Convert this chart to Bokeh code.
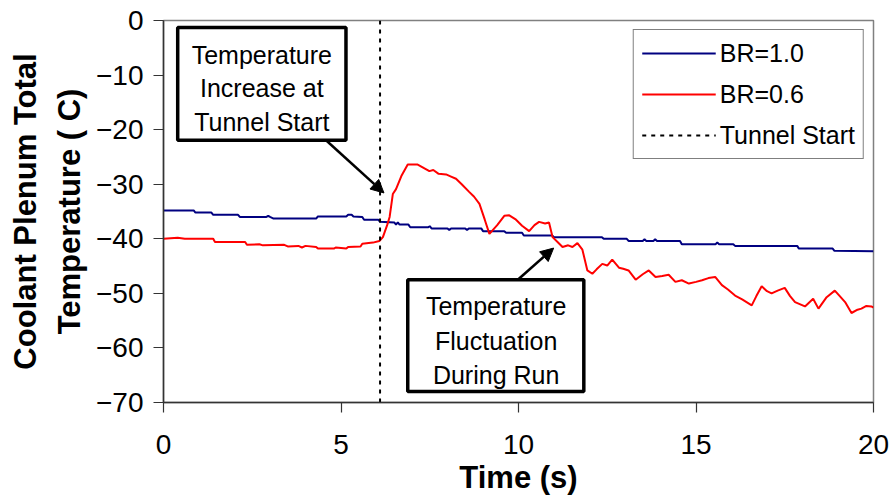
from bokeh.plotting import figure
from bokeh.models import (FixedTicker, BoxAnnotation, Label, Arrow, NormalHead,
                          Legend, LegendItem)
from bokeh.embed import file_html
from bokeh.resources import INLINE

# ---- data -------------------------------------------------------------
br10_time = [0.0, 0.85, 0.9, 1.35, 1.4, 2.1, 2.15, 2.9, 2.95, 3.0, 3.1, 4.3, 4.35,
             5.15, 5.2, 5.3, 5.35, 5.6, 5.65, 6.05, 6.1, 6.5, 6.55, 6.6, 6.65, 6.9,
             6.95, 7.45, 7.5, 7.55, 8.0, 8.05, 8.1, 8.5, 8.55, 8.6, 8.95, 9.0, 9.6,
             9.65, 10.1, 10.15, 10.95, 11.0, 12.35, 12.4, 13.05, 13.1, 13.5, 13.55,
             13.6, 13.8, 13.85, 13.9, 14.55, 14.6, 15.55, 15.6, 15.65, 16.05, 16.1,
             17.85, 17.9, 18.85, 18.9, 20.0]
br10_temp = [-34.8, -34.8, -35.2, -35.2, -35.6, -35.6, -36.0, -36.0, -35.8, -36.0,
             -36.3, -36.3, -35.9, -35.9, -35.6, -35.6, -35.9, -36.0, -36.5, -36.5,
             -36.9, -37.0, -37.4, -37.0, -37.4, -37.4, -37.9, -37.9, -37.7, -38.1,
             -38.1, -38.4, -38.1, -38.1, -38.4, -38.1, -38.1, -38.6, -38.6, -38.9,
             -38.9, -39.4, -39.4, -39.7, -39.7, -40.0, -40.0, -40.4, -40.4, -40.1,
             -40.4, -40.4, -40.1, -40.4, -40.4, -41.0, -41.0, -40.7, -41.0, -41.0,
             -41.3, -41.3, -41.8, -41.8, -42.2, -42.3]

br06_time = [0.0, 0.4, 0.6, 1.4, 1.45, 2.3, 2.35, 2.7, 2.8, 3.4, 3.5, 3.8, 3.9, 4.0,
             4.3, 4.35, 4.8, 4.85, 5.15, 5.2, 5.55, 5.6, 5.9, 6.08, 6.18, 6.3, 6.37,
             6.46, 6.55, 6.7, 6.88, 7.16, 7.3, 7.49, 7.6, 7.75, 7.96, 8.1, 8.24, 8.4,
             8.61, 8.75, 8.9, 9.05, 9.18, 9.4, 9.6, 9.74, 9.93, 10.1, 10.3, 10.45,
             10.58, 10.75, 10.86, 10.96, 11.1, 11.24, 11.4, 11.52, 11.66, 11.8, 11.94,
             12.08, 12.2, 12.36, 12.5, 12.64, 12.83, 12.95, 13.1, 13.3, 13.5, 13.67,
             13.86, 14.05, 14.23, 14.42, 14.6, 14.8, 15.0, 15.17, 15.35, 15.54, 15.73,
             15.9, 16.1, 16.3, 16.57, 16.7, 16.85, 17.0, 17.13, 17.3, 17.5, 17.65,
             17.79, 18.07, 18.3, 18.45, 18.68, 18.91, 19.05, 19.2, 19.38, 19.55, 19.66,
             19.8, 19.94, 20.0]
br06_temp = [-40.0, -39.8, -40.0, -40.0, -40.6, -40.6, -41.1, -41.0, -41.2, -41.1,
             -41.4, -41.3, -41.6, -41.3, -41.5, -41.8, -41.8, -41.6, -41.8, -41.5,
             -41.4, -40.9, -40.7, -40.4, -39.7, -37.5, -36.0, -31.8, -30.9, -28.5,
             -26.4, -26.4, -26.9, -27.6, -27.4, -28.1, -28.2, -28.6, -29.0, -30.0,
             -31.4, -32.3, -33.6, -36.5, -39.1, -37.5, -35.8, -35.7, -36.5, -37.6,
             -38.6, -37.5, -36.9, -37.2, -37.0, -39.7, -40.6, -41.5, -41.2, -41.5,
             -40.8, -42.0, -45.8, -46.4, -45.6, -44.6, -44.9, -43.8, -45.3, -45.5,
             -45.8, -47.5, -46.5, -45.8, -47.0, -46.8, -46.6, -47.9, -47.6, -48.2,
             -47.9, -47.6, -47.2, -47.0, -48.5, -49.3, -50.4, -51.1, -52.2, -50.5,
             -48.7, -49.6, -50.0, -49.5, -49.0, -50.5, -51.6, -52.4, -51.0, -52.8,
             -50.7, -49.5, -50.5, -51.6, -53.6, -53.0, -52.8, -52.3, -52.4, -52.6]

tunnel_start = 6.1
x_ticks = [0, 5, 10, 15, 20]
y_ticks = [-70, -60, -50, -40, -30, -20, -10, 0]

FONT = "Liberation Sans"

p = figure(width=894, height=500, x_range=(0, 20), y_range=(-70, 0),
           output_backend="svg", toolbar_location=None,
           min_border_left=163, min_border_right=21, min_border_top=20,
           min_border_bottom=98)
p.background_fill_color = "white"
p.border_fill_color = "white"
p.grid.visible = False
p.outline_line_color = "#808080"
p.outline_line_width = 1.5

for ax in (p.xaxis, p.yaxis):
    ax.axis_line_color = "#333333"
    ax.axis_line_width = 1.5
    ax.major_tick_line_color = "#333333"
    ax.major_tick_line_width = 1.2
    ax.major_tick_out = 10
    ax.major_tick_in = 0
    ax.minor_tick_line_color = None
    ax.major_label_text_font = FONT
    ax.major_label_text_font_size = "28px"
    ax.major_label_text_color = "black"
    ax.axis_label_text_font = FONT
    ax.axis_label_text_font_size = "31px"
    ax.axis_label_text_font_style = "bold"
    ax.axis_label_text_color = "black"

p.xaxis.ticker = FixedTicker(ticks=x_ticks)
p.yaxis.ticker = FixedTicker(ticks=y_ticks)
p.xaxis.major_label_standoff = 22
p.yaxis.major_label_standoff = 10
p.xaxis.axis_label = "Time (s)"
p.xaxis.axis_label_standoff = 3
p.yaxis.axis_label = "Coolant Plenum Total\nTemperature ( C)"
p.yaxis.axis_label_standoff = 6
p.yaxis.axis_label_text_line_height = 1.25

# ---- series -----------------------------------------------------------
r_br10 = p.line(br10_time, br10_temp, line_color="#000080", line_width=2)
r_br06 = p.line(br06_time, br06_temp, line_color="#FF0000", line_width=2)
r_start = p.line([tunnel_start, tunnel_start], [y_ticks[0], y_ticks[-1]],
                 line_color="black", line_width=2, line_dash="4 5")

legend = Legend(items=[LegendItem(label="BR=1.0", renderers=[r_br10]),
                       LegendItem(label="BR=0.6", renderers=[r_br06]),
                       LegendItem(label="Tunnel Start", renderers=[r_start])],
                location="top_right")
legend.margin = 9
legend.padding = 8
legend.spacing = 11
legend.glyph_width = 74
legend.glyph_height = 30
legend.label_height = 30
legend.label_standoff = 4
legend.label_text_font = FONT
legend.label_text_font_size = "25px"
legend.label_text_color = "black"
legend.border_line_color = "black"
legend.border_line_width = 1
legend.background_fill_color = "white"
legend.background_fill_alpha = 1
p.add_layout(legend)

# ---- callouts ---------------------------------------------------------
head = dict(size=13, fill_color="black", line_color="black")
p.add_layout(Arrow(end=NormalHead(**head), x_start=4.57, y_start=-21.9,
                   x_end=6.21, y_end=-31.6, line_width=2.5, line_color="black"))
p.add_layout(Arrow(end=NormalHead(**head), x_start=9.98, y_start=-47.5,
                   x_end=10.99, y_end=-41.7, line_width=2.5, line_color="black"))

boxes = [
    (0.40, 5.14, -1.28, -21.93, 2.77,
     ["Temperature", "Increase at", "Tunnel Start"], [-6.4, -12.43, -18.64]),
    (6.88, 11.84, -47.52, -67.99, 9.37,
     ["Temperature", "Fluctuation", "During Run"], [-52.4, -58.8, -64.88]),
]
for left, right, top, bottom, cx, lines, ys in boxes:
    p.add_layout(BoxAnnotation(left=left, right=right, top=top, bottom=bottom,
                               fill_color="white", fill_alpha=1.0,
                               line_color="black", line_width=3.5, line_alpha=1.0))
    for txt, yy in zip(lines, ys):
        p.add_layout(Label(x=cx, y=yy, text=txt, text_align="center",
                           text_baseline="alphabetic", text_font=FONT,
                           text_font_size="25px", text_color="black"))

open("out.html", "w").write(file_html(p, INLINE))
